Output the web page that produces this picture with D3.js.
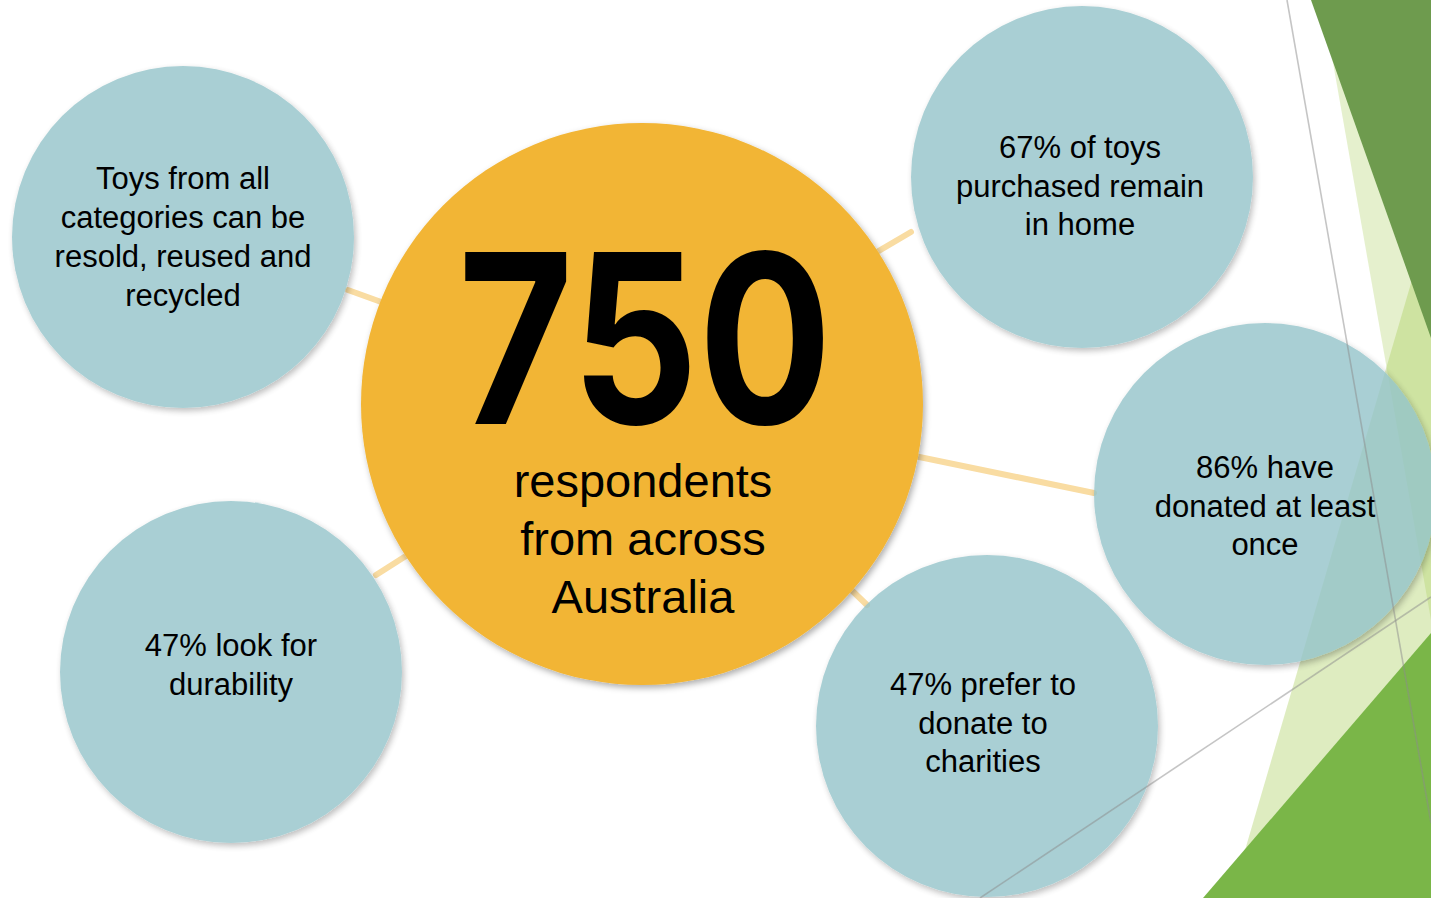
<!DOCTYPE html>
<html>
<head>
<meta charset="utf-8">
<script src="https://cdn.jsdelivr.net/npm/d3@7"></script>
<style>
  html, body { margin: 0; padding: 0; background: #ffffff; }
  svg { display: block; }
</style>
</head>
<body>
<svg id="chart" width="1431" height="898"></svg>
<script>
// ---------- DATA ----------
const headlineValue = "750";
const headlineLines = ["respondents", "from across", "Australia"];
const factIds = ["resale", "durability", "remain", "donated", "charity"];
const factLines = [
  ["Toys from all", "categories can be", "resold, reused and", "recycled"],
  ["47% look for", "durability"],
  ["67% of toys", "purchased remain", "in home"],
  ["86% have", "donated at least", "once"],
  ["47% prefer to", "donate to", "charities"]
];

// ---------- LAYOUT (positions / styling only) ----------
const W = 1431, H = 898;
const hub = { cx: 642, cy: 404, r: 281 };
const bubbleR = 171;
const bubbleLayout = {
  resale:     { cx: 183,  cy: 237, tx: 183,  ty: 237 },
  durability: { cx: 231,  cy: 672, tx: 231,  ty: 665 },
  remain:     { cx: 1082, cy: 177, tx: 1080, ty: 186 },
  donated:    { cx: 1265, cy: 494, tx: 1265, ty: 506 },
  charity:    { cx: 987,  cy: 726, tx: 983,  ty: 723 }
};
const linkLayout = {
  resale:     [[395, 307], [348, 290]],
  remain:     [[865, 259], [911, 232]],
  donated:    [[900, 453], [1094, 493]],
  durability: [[420, 547], [376, 575]],
  charity:    [[840, 579], [867, 605]]
};

const svg = d3.select("#chart");
const defs = svg.append("defs");
const f = defs.append("filter").attr("id", "shadow")
  .attr("x", "-20%").attr("y", "-20%").attr("width", "140%").attr("height", "140%");
f.append("feDropShadow").attr("dx", 2).attr("dy", 3).attr("stdDeviation", 3)
  .attr("flood-color", "#000").attr("flood-opacity", 0.32);

// ---------- Background decoration (theme facets) ----------
const deco = svg.append("g").attr("class", "deco");
const poly = d3.line();
deco.append("path").attr("d", poly([[1322, 0], [1431, 0], [1431, 620]]) + "Z")
  .attr("fill", "#a8cc5a").attr("fill-opacity", 0.3);
deco.append("path").attr("d", poly([[1431, 215], [1431, 898], [1231, 898]]) + "Z")
  .attr("fill", "#a8cc5a").attr("fill-opacity", 0.38);
deco.append("path").attr("d", poly([[1311, 0], [1431, 0], [1431, 338]]) + "Z")
  .attr("fill", "#6e9b4e");
deco.append("path").attr("d", poly([[1203, 898], [1431, 633], [1431, 898]]) + "Z")
  .attr("fill", "#7ab648");

// ---------- Connectors ----------
svg.append("g").selectAll("line")
  .data(factIds)
  .join("line")
  .attr("x1", d => linkLayout[d][0][0]).attr("y1", d => linkLayout[d][0][1])
  .attr("x2", d => linkLayout[d][1][0]).attr("y2", d => linkLayout[d][1][1])
  .attr("stroke", "#f9dca2").attr("stroke-width", 6).attr("stroke-linecap", "round");

// ---------- Hub ----------
const hubG = svg.append("g");
hubG.append("circle").attr("cx", hub.cx).attr("cy", hub.cy).attr("r", hub.r)
  .attr("fill", "#f2b535").attr("filter", "url(#shadow)");
hubG.append("text")
  .attr("x", 645).attr("y", 424)
  .attr("text-anchor", "middle")
  .attr("font-family", "Inter, 'Open Sans', sans-serif")
  .attr("font-weight", 700)
  .attr("font-size", 236)
  .attr("textLength", 374).attr("lengthAdjust", "spacingAndGlyphs")
  .attr("fill", "#000")
  .text(headlineValue);
hubG.append("g").selectAll("text")
  .data(headlineLines)
  .join("text")
  .attr("x", 643)
  .attr("y", (d, i) => 481 + i * 58 + 16)
  .attr("text-anchor", "middle")
  .attr("font-family", "'Liberation Sans', Arial, sans-serif")
  .attr("font-size", 47)
  .attr("fill", "#000")
  .text(d => d);

// ---------- Bubbles ----------
const bubbles = svg.append("g").selectAll("g")
  .data(factIds.map((id, i) => ({ id, lines: factLines[i] })))
  .join("g");
bubbles.append("g")
  .attr("opacity", 0.8)
  .append("circle")
  .attr("cx", d => bubbleLayout[d.id].cx)
  .attr("cy", d => bubbleLayout[d.id].cy)
  .attr("r", bubbleR)
  .attr("fill", "#94c4ca")
  .attr("filter", "url(#shadow)");
const lh = 38.7;
bubbles.append("g").selectAll("text")
  .data(d => d.lines.map((t, i) => ({ t, i, n: d.lines.length, L: bubbleLayout[d.id] })))
  .join("text")
  .attr("x", d => d.L.tx)
  .attr("y", d => d.L.ty + (d.i - (d.n - 1) / 2) * lh + 10.5)
  .attr("text-anchor", "middle")
  .attr("font-family", "'Liberation Sans', Arial, sans-serif")
  .attr("font-size", 31)
  .attr("fill", "#000")
  .text(d => d.t);

// ---------- Thin theme lines on top ----------
const thin = svg.append("g");
thin.append("line").attr("x1", 1287).attr("y1", 0).attr("x2", 1431).attr("y2", 823)
  .attr("stroke", "#8c8c8c").attr("stroke-opacity", 0.5).attr("stroke-width", 1.6);
thin.append("line").attr("x1", 980).attr("y1", 898).attr("x2", 1431).attr("y2", 597)
  .attr("stroke", "#8c8c8c").attr("stroke-opacity", 0.5).attr("stroke-width", 1.6);
</script>
</body>
</html>
